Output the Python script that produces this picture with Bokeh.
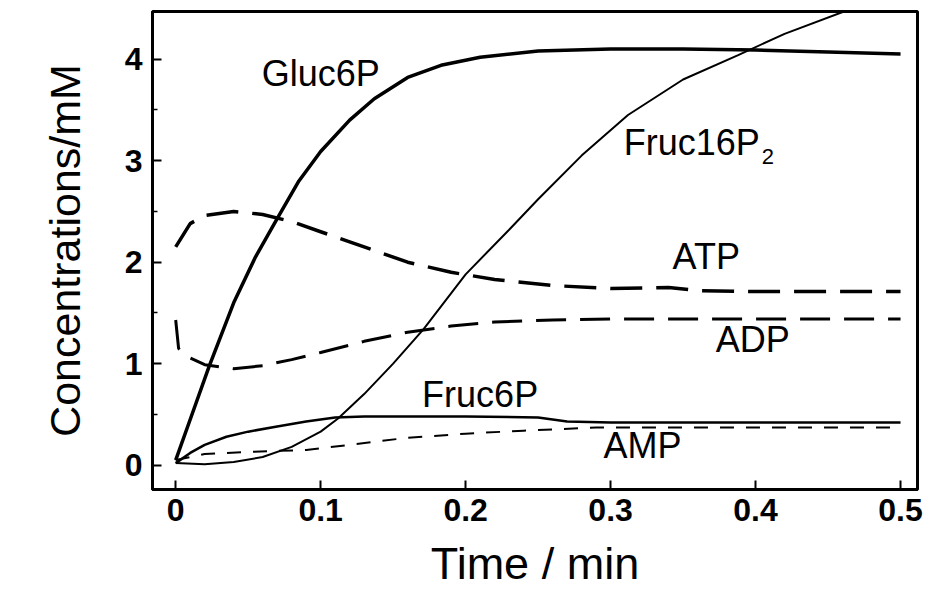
from bokeh.plotting import figure
from bokeh.models import Range1d, FixedTicker
from bokeh.core.properties import value
from bokeh.embed import file_html
from bokeh.resources import INLINE

# ---- data ----
gluc6p_t = [0, 0.01, 0.023, 0.04, 0.055, 0.07, 0.085, 0.1, 0.12, 0.137, 0.16, 0.183, 0.21, 0.25, 0.3, 0.35, 0.4, 0.45, 0.5]
gluc6p_v = [0.05, 0.45, 0.97, 1.6, 2.05, 2.43, 2.8, 3.09, 3.4, 3.61, 3.82, 3.94, 4.02, 4.08, 4.1, 4.1, 4.09, 4.07, 4.05]

fruc16p2_t = [0, 0.02, 0.04, 0.06, 0.08, 0.1, 0.112, 0.13, 0.15, 0.171, 0.2, 0.23, 0.25, 0.28, 0.312, 0.35, 0.388, 0.42, 0.461, 0.5]
fruc16p2_v = [0.02, 0.01, 0.03, 0.08, 0.18, 0.33, 0.46, 0.7, 1.0, 1.34, 1.88, 2.32, 2.62, 3.05, 3.45, 3.8, 4.04, 4.25, 4.47, 4.65]

atp_t = [0, 0.01, 0.02, 0.04, 0.06, 0.08, 0.1, 0.12, 0.14, 0.16, 0.19, 0.22, 0.26, 0.3, 0.34, 0.36, 0.4, 0.5]
atp_v = [2.15, 2.38, 2.46, 2.5, 2.47, 2.4, 2.3, 2.2, 2.1, 2.0, 1.9, 1.83, 1.77, 1.74, 1.75, 1.72, 1.71, 1.71]

adp_t = [0, 0.002, 0.008, 0.02, 0.04, 0.06, 0.08, 0.1, 0.13, 0.16, 0.19, 0.22, 0.26, 0.3, 0.5]
adp_v = [1.43, 1.15, 1.07, 0.99, 0.95, 0.98, 1.04, 1.11, 1.22, 1.31, 1.37, 1.41, 1.43, 1.44, 1.44]

fruc6p_t = [0, 0.01, 0.02, 0.035, 0.05, 0.07, 0.09, 0.11, 0.13, 0.2, 0.25, 0.27, 0.3, 0.5]
fruc6p_v = [0.02, 0.12, 0.2, 0.28, 0.33, 0.38, 0.43, 0.47, 0.48, 0.48, 0.47, 0.43, 0.42, 0.42]

amp_t = [0, 0.02, 0.05, 0.09, 0.12, 0.16, 0.2, 0.24, 0.29, 0.5]
amp_v = [0.05, 0.11, 0.13, 0.15, 0.2, 0.27, 0.31, 0.34, 0.37, 0.37]

label_names = ["Gluc6P", "Fruc16P", "ATP", "ADP", "Fruc6P", "AMP"]
label_t = [0.1, 0.309, 0.366, 0.398, 0.21, 0.322]
label_v = [3.86, 3.18, 2.06, 1.24, 0.70, 0.19]
label_align = ["center", "left", "center", "center", "center", "center"]
sub_text = "2"

x_ticks = [0, 0.1, 0.2, 0.3, 0.4, 0.5]
x_tick_labels = ["0", "0.1", "0.2", "0.3", "0.4", "0.5"]
y_ticks = [0, 1, 2, 3, 4]
y_minor = [0.5, 1.5, 2.5, 3.5]

FONT = "Liberation Sans"

p = figure(width=928, height=598, output_backend="svg", toolbar_location=None,
           x_range=Range1d(-0.016, 0.5117), y_range=Range1d(-0.24, 4.47),
           min_border_left=152, min_border_right=11, min_border_top=11, min_border_bottom=109)
p.grid.visible = False
p.outline_line_color = "black"
p.outline_line_width = 3
p.background_fill_color = "white"
p.border_fill_color = "white"

# curves
p.line(gluc6p_t, gluc6p_v, line_color="black", line_width=3.5)
p.line(fruc16p2_t, fruc16p2_v, line_color="black", line_width=2)
p.line(atp_t, atp_v, line_color="black", line_width=3.5, line_dash="32 14")
p.line(adp_t, adp_v, line_color="black", line_width=3, line_dash="30 14")
p.line(fruc6p_t, fruc6p_v, line_color="black", line_width=2.5)
p.line(amp_t, amp_v, line_color="black", line_width=2, line_dash="14 12")

# labels
for name, t, v, al in zip(label_names, label_t, label_v, label_align):
    p.text([t], [v], text=[name], text_font=value(FONT), text_font_size="36px",
           text_align=al, text_baseline="middle", text_color="black")
p.text([label_t[1]], [label_v[1]], text=[sub_text], text_font=value(FONT), text_font_size="22px",
       text_align="left", text_baseline="middle", text_color="black", x_offset=138, y_offset=14)

# axes
for ax in (p.xaxis[0], p.yaxis[0]):
    ax.axis_line_width = 3
    ax.major_tick_in = 9
    ax.major_tick_out = 0
    ax.major_tick_line_width = 2
    ax.minor_tick_in = 5
    ax.minor_tick_out = 0
    ax.minor_tick_line_width = 1.5
    ax.major_label_text_font = FONT
    ax.major_label_text_font_style = "bold"
    ax.major_label_text_font_size = "32px"
    ax.major_label_text_color = "black"
    ax.axis_label_text_font = FONT
    ax.axis_label_text_font_style = "normal"
    ax.axis_label_text_color = "black"

p.xaxis.ticker = FixedTicker(ticks=x_ticks)
p.xaxis.major_label_overrides = {t: s for t, s in zip(x_ticks, x_tick_labels)}
p.xaxis.major_label_standoff = 9
p.xaxis.axis_label = "Time / min"
p.xaxis.axis_label_text_font_size = "45px"
p.xaxis.axis_label_standoff = 14

p.yaxis.ticker = FixedTicker(ticks=y_ticks, minor_ticks=y_minor)
p.yaxis.major_label_standoff = 10
p.yaxis.axis_label = "Concentrations/mM"
p.yaxis.axis_label_text_font_size = "43px"
p.yaxis.axis_label_standoff = 33

open("out.html", "w").write(file_html(p, INLINE))
